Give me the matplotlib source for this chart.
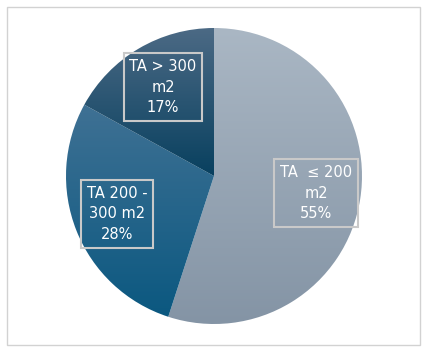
import numpy as np
import matplotlib.pyplot as plt
from matplotlib.colors import LinearSegmentedColormap
from matplotlib.patches import Rectangle

labels = ["TA  \u2264 200\nm2\n55%", "TA 200 -\n300 m2\n28%", "TA > 300\nm2\n17%"]
shares = [55, 28, 17]
top_colors = ["#aab7c4", "#3f7194", "#4c6a85"]
bottom_colors = ["#8494a5", "#0b5880", "#08405f"]
label_pos = [(316, 160), (117, 139), (163, 266)]

fig = plt.figure(figsize=(4.27, 3.53), dpi=100)
ax = fig.add_axes([0, 0, 1, 1])

ax.add_patch(Rectangle((7, 8), 413, 338, fill=False, edgecolor="#d2d2d2", lw=1))

cx, cy, r = 214, 177, 148
wedges, _ = ax.pie(shares, startangle=90, counterclock=False, center=(cx, cy),
                   radius=r, frame=True)
ax.set_xlim(0, 427)
ax.set_ylim(0, 353)
ax.set_aspect("equal")
ax.axis("off")

grad = np.linspace(1, 0, 256).reshape(-1, 1)
for w, c1, c2 in zip(wedges, top_colors, bottom_colors):
    w.set_facecolor("none")
    w.set_edgecolor("none")
    # gradient over each slice's own bounding box
    v = w.get_patch_transform().transform(w.get_path().vertices)
    x0, y0 = v.min(axis=0)
    x1, y1 = v.max(axis=0)
    cmap = LinearSegmentedColormap.from_list("g", [c2, c1])
    im = ax.imshow(grad, cmap=cmap, extent=(x0, x1, y0, y1),
                   aspect="auto", origin="upper", zorder=1)
    im.set_clip_path(w)

ax.set_xlim(0, 427)
ax.set_ylim(0, 353)

for lab, (x, y) in zip(labels, label_pos):
    ax.text(x, y, lab, ha="center", va="center", color="white", fontsize=10.5,
            linespacing=1.45, zorder=3,
            bbox=dict(boxstyle="square,pad=0.4", fc="none", ec="#c9c9c9", lw=1.5))

fig.savefig("out.png", dpi=100)
